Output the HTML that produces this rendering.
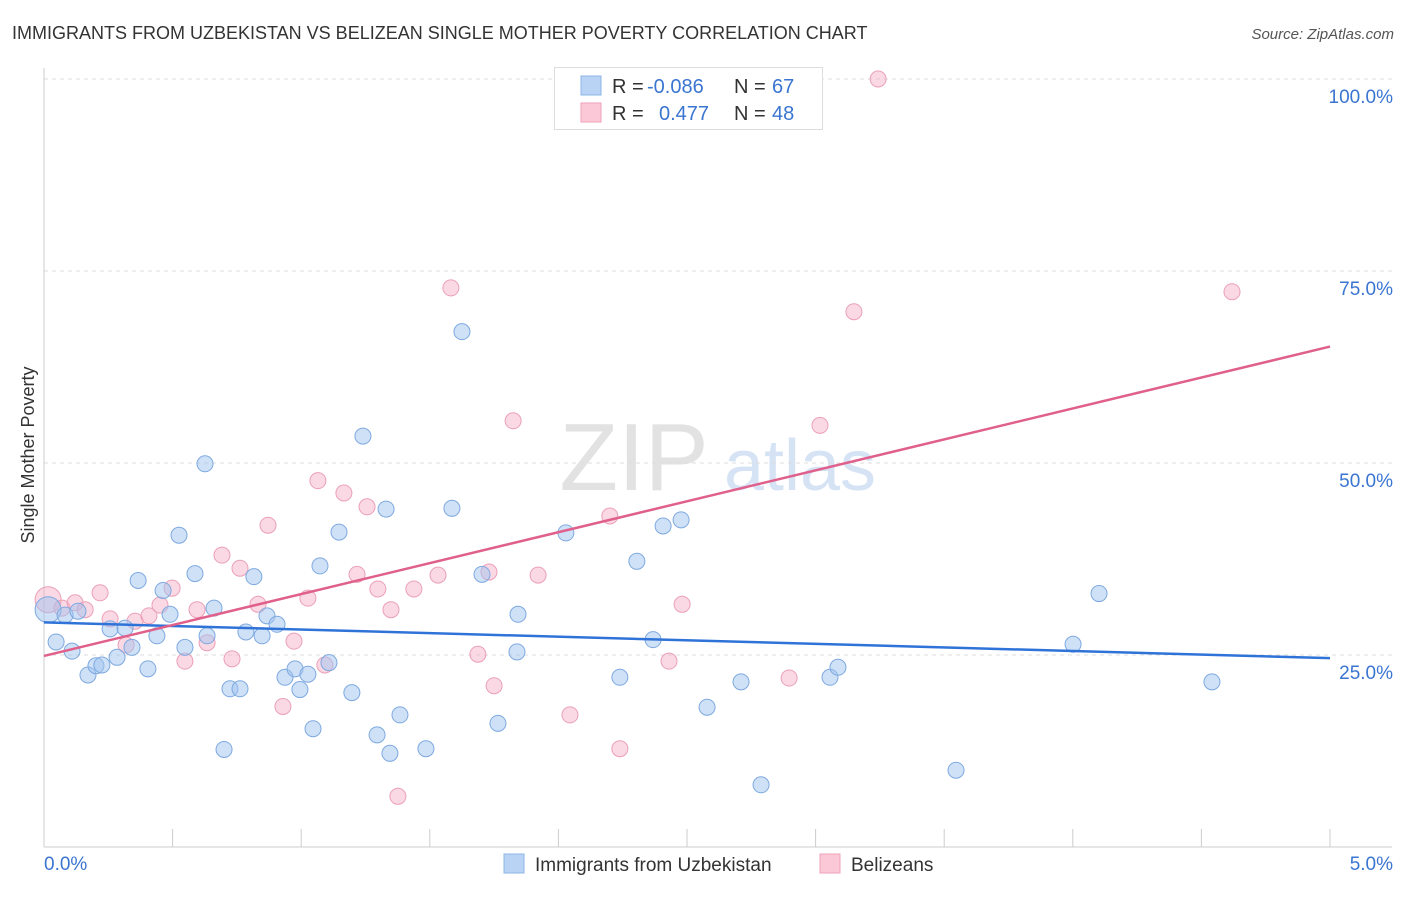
<!DOCTYPE html>
<html><head><meta charset="utf-8"><style>
body{margin:0;background:#fff;font-family:"Liberation Sans",sans-serif;}
svg text{font-family:"Liberation Sans",sans-serif;}
</style></head><body>
<svg id="chart" width="1406" height="892" xmlns="http://www.w3.org/2000/svg">
<text x="12" y="39" font-size="18" fill="#333">IMMIGRANTS FROM UZBEKISTAN VS BELIZEAN SINGLE MOTHER POVERTY CORRELATION CHART</text>
<text x="1394" y="39" font-size="15" fill="#555" font-style="italic" text-anchor="end">Source: ZipAtlas.com</text>
<text transform="translate(34,455) rotate(-90)" font-size="18" fill="#333" text-anchor="middle">Single Mother Poverty</text>
<g>
<text x="634" y="490" font-size="96" fill="#e2e2e2" font-family="Liberation Serif" text-anchor="middle">ZIP</text>
<text x="800" y="490" font-size="72" fill="#d5e3f5" text-anchor="middle">atlas</text>
</g>
<g id="grid"></g><g id="axes"></g><g id="pts"></g><g id="lines"></g>
<g>
<rect x="554.5" y="67.5" width="268" height="62" fill="#fff" stroke="#ddd"/>
<rect x="581" y="76" width="20" height="19" fill="#b9d3f5" stroke="#8db4e6"/>
<rect x="581" y="103" width="20" height="19" fill="#fbc8d7" stroke="#f0a0ba"/>
<text x="612" y="93" font-size="20" fill="#333">R =</text>
<text x="647" y="93" font-size="20" fill="#3a75d1">-0.086</text>
<text x="734" y="93" font-size="20" fill="#333">N =</text>
<text x="772" y="93" font-size="20" fill="#3a75d1">67</text>
<text x="612" y="120" font-size="20" fill="#333">R =</text>
<text x="659" y="120" font-size="20" fill="#3a75d1">0.477</text>
<text x="734" y="120" font-size="20" fill="#333">N =</text>
<text x="772" y="120" font-size="20" fill="#3a75d1">48</text>
</g>
<g>
<rect x="504" y="854" width="20" height="19" fill="#b9d3f5" stroke="#8db4e6"/>
<text x="535" y="871" font-size="19" fill="#333">Immigrants from Uzbekistan</text>
<rect x="820" y="854" width="20" height="19" fill="#fbc8d7" stroke="#f0a0ba"/>
<text x="851" y="871" font-size="19" fill="#333">Belizeans</text>
</g>
</svg>
<script>
const yTicks=[25,50,75,100];
const yTickLabels=["25.0%","50.0%","75.0%","100.0%"];
const xTicks=[0,0.5,1,1.5,2,2.5,3,3.5,4,4.5,5];
const blueX=[0.016,0.047,0.082,0.109,0.132,0.171,0.202,0.225,0.257,0.284,0.315,0.342,0.366,0.404,0.439,0.463,0.490,0.525,0.548,0.587,0.626,0.634,0.661,0.700,0.723,0.762,0.785,0.816,0.848,0.867,0.906,0.937,0.976,0.995,1.026,1.046,1.073,1.108,1.147,1.197,1.240,1.295,1.330,1.345,1.384,1.485,1.586,1.625,1.703,1.765,1.839,1.843,2.029,2.239,2.305,2.368,2.407,2.477,2.578,2.710,2.788,3.056,3.087,3.546,4.001,4.102,4.541];
const blueY=[30.9,26.7,30.2,25.5,30.7,22.4,23.6,23.7,28.4,24.7,28.5,26.0,34.7,23.2,27.5,33.4,30.3,40.6,26.0,35.6,49.9,27.5,31.1,12.7,20.6,20.6,28.0,35.2,27.5,30.1,29.0,22.1,23.2,20.5,22.5,15.4,36.6,24.0,41.0,20.1,53.5,14.6,44.0,12.2,17.2,12.8,44.1,67.1,35.5,16.1,25.4,30.3,40.9,22.1,37.2,27.0,41.8,42.6,18.2,21.5,8.1,22.1,23.4,10.0,26.4,33.0,21.5];
const pinkX=[0.016,0.070,0.121,0.160,0.218,0.257,0.319,0.354,0.408,0.451,0.498,0.548,0.595,0.634,0.692,0.731,0.762,0.832,0.871,0.929,0.972,1.026,1.065,1.092,1.166,1.217,1.256,1.298,1.349,1.376,1.438,1.532,1.582,1.687,1.730,1.750,1.824,1.921,2.045,2.200,2.239,2.430,2.481,2.897,3.017,3.149,3.243,4.619];
const pinkY=[32.2,31.1,31.8,30.9,33.1,29.7,26.3,29.4,30.1,31.5,33.7,24.2,30.9,26.6,38.0,24.5,36.3,31.6,41.9,18.3,26.8,32.4,47.7,23.7,46.1,35.5,44.3,33.6,30.9,6.6,33.6,35.4,72.8,25.1,35.8,21.0,55.5,35.4,17.2,43.1,12.8,24.2,31.6,22.0,54.9,69.7,100,72.3];
const big=[0];
const M={x0:44,x1:1330,y0:847,y1:79};
const X=v=>M.x0+(v/5)*(M.x1-M.x0);
const Y=v=>M.y0-(v/100)*(M.y0-M.y1);
const NS="http://www.w3.org/2000/svg";
function mk(tag,attrs,parent){const e=document.createElementNS(NS,tag);for(const k in attrs)e.setAttribute(k,attrs[k]);parent.appendChild(e);return e;}
const grid=document.getElementById('grid'),axes=document.getElementById('axes'),pts=document.getElementById('pts'),lines=document.getElementById('lines');
yTicks.forEach((t,i)=>{
 const l=mk('line',{x1:44,x2:1392,y1:Y(t),y2:Y(t),stroke:'#ddd','stroke-dasharray':'4,4'},grid);
 
 
 const tx=mk('text',{x:1393,y:Y(t)+24,'font-size':19,fill:'#3a75d1','text-anchor':'end'},axes);
 tx.textContent=yTickLabels[i];
 
 
});
const ax=mk('line',{x1:44,x2:1392,y1:847,y2:847,stroke:'#ccc'},axes);


const ay=mk('line',{x1:44,x2:44,y1:68,y2:847,stroke:'#ccc'},axes);


xTicks.forEach(t=>{
 const l=mk('line',{x1:X(t),x2:X(t),y1:829,y2:847,stroke:'#ccc'},axes);
 
 
});
const xl0=mk('text',{x:44,y:870,'font-size':19,fill:'#3a75d1'},axes);xl0.textContent='0.0%';


const xl1=mk('text',{x:1393,y:870,'font-size':19,fill:'#3a75d1','text-anchor':'end'},axes);xl1.textContent='5.0%';


pinkX.forEach((v,i)=>{
 const c=mk('circle',{cx:X(v),cy:Y(pinkY[i]),r:big.includes(i)?13:8,fill:'rgba(245,170,195,0.45)',stroke:'#eba0b8','stroke-width':1},pts);
 
 
});
blueX.forEach((v,i)=>{
 const c=mk('circle',{cx:X(v),cy:Y(blueY[i]),r:big.includes(i)?13:8,fill:'rgba(160,195,240,0.5)',stroke:'#7ea9e0','stroke-width':1},pts);
 
 
});
function fit(xs,ys){const n=xs.length;let mx=0,my=0;xs.forEach((v,i)=>{mx+=v;my+=ys[i];});mx/=n;my/=n;let a=0,b=0;xs.forEach((v,i)=>{a+=(v-mx)*(ys[i]-my);b+=(v-mx)*(v-mx);});const s=a/b;return [my-s*mx,s];}
const fb=fit(blueX,blueY),fp=fit(pinkX,pinkY);
const lb=mk('line',{x1:X(0),y1:Y(fb[0]),x2:X(5),y2:Y(fb[0]+5*fb[1]),stroke:'#2f73d8','stroke-width':2.5},lines);


const lp=mk('line',{x1:X(0),y1:Y(fp[0]),x2:X(5),y2:Y(fp[0]+5*fp[1]),stroke:'#e0608c','stroke-width':2.5},lines);


</script>
</body></html>
